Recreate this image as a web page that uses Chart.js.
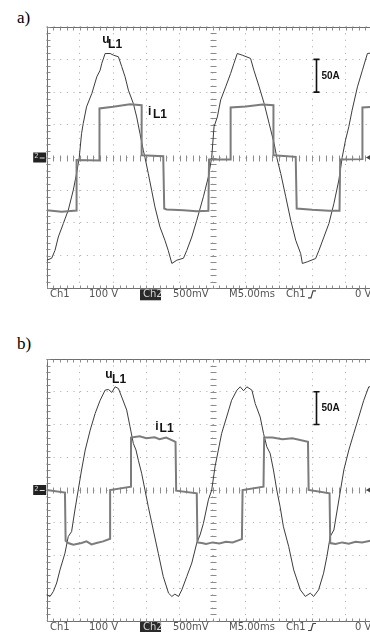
<!DOCTYPE html>
<html><head><meta charset="utf-8">
<script src="https://cdn.jsdelivr.net/npm/chart.js@4/dist/chart.umd.min.js"></script>
<style>
html,body{margin:0;padding:0;background:#fff;overflow:hidden;width:370px;height:632px;position:relative;}
canvas{position:absolute;left:0;}
#ca{top:0;}
#cb{top:332px;}
.lbl{position:absolute;font-family:"Liberation Serif","Times New Roman",serif;font-size:17px;color:#000;line-height:1;}
</style></head>
<body>
<div class="lbl" style="left:17px;top:9px;">a)</div>
<div class="lbl" style="left:17px;top:335px;">b)</div>
<canvas id="ca" width="400" height="310"></canvas>
<canvas id="cb" width="400" height="300"></canvas>
<script>
// ---- data (oscilloscope divisions: x = time div, y = vertical div) ----
const aVoltX = [0,0.15,0.25,0.35,0.5,0.65,0.8,0.9,0.98,1.05,1.1,1.2,1.36,1.51,1.61,1.66,1.76,1.91,2.01,2.16,2.26,2.36,2.46,2.61,2.71,2.81,2.91,2.96,3.06,3.16,3.26,3.41,3.56,3.66,3.77,3.92,4.12,4.22,4.37,4.52,4.72,4.87,4.97,5.04,5.14,5.24,5.39,5.54,5.64,5.74,5.89,6.14,6.24,6.4,6.55,6.7,6.85,6.93,7.05,7.2,7.35,7.5,7.65,7.7,7.85,8.1,8.2,8.35,8.5,8.65,8.8,8.9,9.0,9.1,9.2,9.36,9.51,9.66,9.8,9.9,10];
const aVoltY = [-3.14,-3.08,-2.84,-2.43,-2.02,-1.61,-1.0,-0.49,0,0.73,1.04,1.55,1.96,2.47,2.67,2.88,3.18,3.18,3.13,3.08,2.78,2.47,2.06,1.65,1.24,0.73,0.22,0,-0.49,-1.0,-1.51,-2.12,-2.53,-2.84,-3.24,-3.14,-3.08,-2.84,-2.43,-1.92,-1.2,-0.59,0,0.94,1.24,1.76,2.16,2.57,2.88,3.18,3.13,3.03,2.67,2.16,1.65,1.04,0.43,0,-0.49,-1.2,-1.92,-2.53,-2.94,-3.24,-3.19,-3.09,-2.84,-2.43,-2.02,-1.41,-0.69,0,0.53,0.94,1.45,2.16,2.67,3.18,3.2,3.1,3.1];
const aCurrX = [0,0.45,0.9,0.9,1.59,1.59,2.0,2.51,2.86,2.86,3.51,3.54,3.61,4.12,4.52,4.87,4.89,5.54,5.54,6.0,6.5,6.83,6.83,7.5,7.53,8.0,8.5,8.82,8.84,9.51,9.51,10];
const aCurrY = [-1.61,-1.66,-1.62,-0.08,-0.09,1.5,1.55,1.63,1.6,0.07,0.04,-1.56,-1.59,-1.61,-1.64,-1.63,-0.06,-0.06,1.53,1.56,1.62,1.6,0.07,0.02,-1.56,-1.6,-1.63,-1.63,-0.06,-0.05,1.53,1.56];

const bVoltX = [0,0.1,0.2,0.3,0.4,0.55,0.65,0.75,0.85,0.95,1.05,1.16,1.31,1.46,1.61,1.76,1.86,1.96,2.06,2.16,2.26,2.41,2.51,2.61,2.69,2.76,2.86,2.96,3.06,3.21,3.36,3.51,3.67,3.77,3.86,3.97,4.07,4.22,4.37,4.52,4.62,4.72,4.87,4.97,5.07,5.17,5.27,5.42,5.57,5.73,5.83,5.93,6.03,6.18,6.28,6.43,6.53,6.63,6.73,6.83,6.93,7.03,7.13,7.29,7.44,7.64,7.79,7.94,8.04,8.19,8.34,8.44,8.54,8.65,8.75,8.85,8.95,9.1,9.25,9.4,9.55,9.7,9.85,10];
const bVoltY = [-3.2,-3.25,-3.1,-2.84,-2.44,-1.93,-1.42,-1.27,-0.61,0,0.61,1.22,1.83,2.34,2.74,3.05,3.07,2.98,3.15,3.1,2.84,2.44,1.93,1.42,1.22,0.91,0.51,0,-0.51,-1.22,-1.93,-2.64,-3.15,-3.25,-3.18,-3.25,-3.05,-2.64,-2.23,-1.62,-1.37,-1.02,-0.3,0,0.71,1.22,1.73,2.23,2.74,3.05,3.15,3.03,3.15,3.05,2.64,2.23,1.73,1.32,1.12,0.61,0,-0.51,-1.12,-1.73,-2.44,-3.05,-3.25,-3.15,-3.25,-3.05,-2.54,-2.03,-1.42,-1.22,-0.61,0,0.61,1.22,1.73,2.23,2.74,3.15,3.15,3.0];
const bCurrX = [0,0.55,0.57,0.65,0.8,1.05,1.2,1.35,1.5,1.7,1.91,1.91,2.54,2.54,2.8,3.0,3.25,3.4,3.6,3.88,3.9,4.52,4.54,4.67,4.8,5.0,5.2,5.4,5.6,5.88,5.9,6.53,6.55,6.8,7.1,7.4,7.87,7.89,8.52,8.54,8.7,8.9,9.1,9.3,9.5,9.75,10];
const bCurrY = [0,-0.08,-1.55,-1.62,-1.67,-1.62,-1.57,-1.66,-1.62,-1.57,-1.49,0,0.1,1.6,1.64,1.58,1.61,1.55,1.6,1.47,-0.02,-0.1,-1.6,-1.62,-1.65,-1.6,-1.63,-1.58,-1.6,-1.5,0,0.1,1.6,1.6,1.55,1.58,1.47,0,-0.1,-1.62,-1.65,-1.6,-1.64,-1.58,-1.6,-1.55,-1.5];

const bottomTexts = ['Ch1','100 V','Ch2','500mV','M5.00ms','Ch1','0 V'];

function pts(xs, ys){ return xs.map((v,i)=>({x:v, y:ys[i]})); }

const deco = {
  id:'deco',
  beforeDatasetsDraw(chart, args, o){
    const ctx = chart.ctx, ca = chart.chartArea, X = chart.scales.x, Y = chart.scales.y;
    ctx.save();
    ctx.strokeStyle = '#6e6e6e'; ctx.lineWidth = 1;
    const L = Math.round(ca.left)+0.5, T = Math.round(ca.top)+0.5, R = Math.round(ca.right)+0.5, B = Math.round(ca.bottom)+0.5;
    ctx.beginPath(); ctx.moveTo(R,T); ctx.lineTo(L,T); ctx.lineTo(L,B); ctx.lineTo(R,B); ctx.stroke();
    const cx = Math.round(X.getPixelForValue(5))+0.5, cy = Math.round(Y.getPixelForValue(0))+0.5;
    ctx.strokeStyle = '#8c8c8c';
    ctx.beginPath();
    for (let i=0;i<=50;i++){
      const px = Math.round(X.getPixelForValue(i/5))+0.5;
      ctx.moveTo(px, cy-3); ctx.lineTo(px, cy+3);
      ctx.moveTo(px, T); ctx.lineTo(px, T+3);
      ctx.moveTo(px, B); ctx.lineTo(px, B-3);
    }
    for (let i=-20;i<=20;i++){
      const py = Math.round(Y.getPixelForValue(i/5))+0.5;
      ctx.moveTo(cx-3, py); ctx.lineTo(cx+3, py);
      ctx.moveTo(L, py); ctx.lineTo(L+3, py);
    }
    ctx.stroke();
    ctx.restore();
  },
  afterDatasetsDraw(chart, args, o){
    const ctx = chart.ctx, ca = chart.chartArea, X = chart.scales.x, Y = chart.scales.y;
    ctx.save();
    // 50A scale bar
    const bx = Math.round(X.getPixelForValue(8.1))+0.5, by1 = Y.getPixelForValue(3), by2 = Y.getPixelForValue(2);
    ctx.strokeStyle = '#111'; ctx.lineWidth = 1.6;
    ctx.beginPath();
    ctx.moveTo(bx, by1); ctx.lineTo(bx, by2);
    ctx.moveTo(bx-3, by1); ctx.lineTo(bx+3, by1);
    ctx.moveTo(bx-3, by2); ctx.lineTo(bx+3, by2);
    ctx.stroke();
    ctx.fillStyle = '#111';
    ctx.font = 'bold 10px "Liberation Sans", Arial, sans-serif';
    ctx.textBaseline = 'middle'; ctx.textAlign = 'left';
    ctx.fillText('50A', bx+5, (by1+by2)/2);
    // trace labels
    ctx.textBaseline = 'alphabetic';
    const lb = o.labels;
    ctx.font = 'bold 12px "Liberation Sans", Arial, sans-serif';
    ctx.fillText('u', X.getPixelForValue(lb.u[0]), Y.getPixelForValue(lb.u[1]));
    ctx.fillText('L1', X.getPixelForValue(lb.uS[0]), Y.getPixelForValue(lb.uS[1]));
    ctx.fillText('i', X.getPixelForValue(lb.i[0]), Y.getPixelForValue(lb.i[1]));
    ctx.fillText('L1', X.getPixelForValue(lb.iS[0]), Y.getPixelForValue(lb.iS[1]));
    // channel 2 ground marker
    const cy = Y.getPixelForValue(0);
    ctx.fillStyle = '#222';
    ctx.fillRect(ca.left-13.5, cy-5, 13, 10);
    ctx.fillStyle = '#ddd';
    ctx.font = '7px "DejaVu Sans", sans-serif';
    ctx.textBaseline = 'middle';
    ctx.fillText('2', ca.left-12.5, cy-1);
    ctx.fillRect(ca.left-7, cy, 5, 1);
    // trigger marker on right
    ctx.fillStyle = '#444';
    ctx.beginPath(); ctx.moveTo(366, cy); ctx.lineTo(371, cy-3); ctx.lineTo(371, cy+3); ctx.closePath(); ctx.fill();
    // bottom readout
    const ty = ca.bottom + o.textDy;
    ctx.font = '10px "DejaVu Sans", sans-serif';
    ctx.textBaseline = 'middle'; ctx.textAlign = 'left';
    const xs = [50, 89, 143, 173, 229, 286, 355];
    bottomTexts.forEach((t,i)=>{
      if (i===2){
        ctx.fillStyle = '#2a2a2a';
        ctx.fillRect(140, ty-5, 21, 11);
        ctx.fillStyle = '#d8d8d8';
        ctx.fillText(t, xs[i], ty+0.5);
      } else {
        ctx.fillStyle = '#555';
        ctx.fillText(t, xs[i], ty+0.5);
      }
    });
    // trigger slope symbol
    ctx.strokeStyle = '#444'; ctx.lineWidth = 1.2;
    ctx.beginPath(); ctx.moveTo(308, ty+3.5); ctx.lineTo(311, ty+3.5); ctx.lineTo(313, ty-3.5); ctx.lineTo(316, ty-3.5); ctx.stroke();
    ctx.restore();
  }
};

function makeChart(id, vx, vy, cxs, cys, labels, pad, textDy){
  return new Chart(document.getElementById(id), {
    type:'line',
    data:{datasets:[
      {data:pts(cxs,cys), borderColor:'#7c7c7c', borderWidth:2, pointRadius:0, tension:0, fill:false},
      {data:pts(vx,vy), borderColor:'#3c3c3c', borderWidth:1, pointRadius:0, tension:0, fill:false}
    ]},
    options:{
      responsive:false, animation:false, maintainAspectRatio:false,
      layout:{padding:pad},
      plugins:{legend:{display:false}, tooltip:{enabled:false}, deco:{labels:labels, textDy:textDy}},
      scales:{
        x:{type:'linear', min:0, max:10, ticks:{display:false, stepSize:1}, grid:{color:'#a8a8a8', drawTicks:false}, border:{display:false, dash:[1,5.54]}},
        y:{type:'linear', min:-4, max:4, ticks:{display:false, stepSize:1}, grid:{color:'#a8a8a8', drawTicks:false}, border:{display:false, dash:[1,5.64]}}
      }
    },
    plugins:[deco]
  });
}

makeChart('ca', aVoltX, aVoltY, aCurrX, aCurrY,
  {u:[1.67,3.5], uS:[1.85,3.34], i:[3.05,1.29], iS:[3.2,1.2]},
  {left:46.7, right:21.3, top:26.7, bottom:21.7}, 6);
makeChart('cb', bVoltX, bVoltY, bCurrX, bCurrY,
  {u:[1.76,3.41], uS:[1.97,3.26], i:[3.27,1.83], iS:[3.4,1.77]},
  {left:46.7, right:21.3, top:27, bottom:11}, 6);
</script>
</body></html>
